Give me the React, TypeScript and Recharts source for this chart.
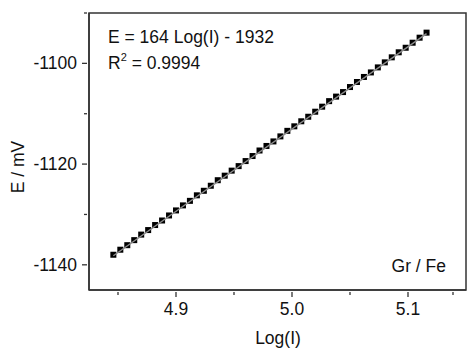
import { ScatterChart, Scatter, XAxis, YAxis, ReferenceArea } from 'recharts';

const logI = [
  4.846, 4.852, 4.858, 4.864, 4.870, 4.876, 4.882, 4.888, 4.894, 4.900,
  4.906, 4.912, 4.918, 4.924, 4.930, 4.936, 4.942, 4.948, 4.954, 4.960,
  4.966, 4.972, 4.978, 4.984, 4.990, 4.996, 5.002, 5.008, 5.014, 5.020,
  5.026, 5.032, 5.038, 5.044, 5.050, 5.056, 5.062, 5.068, 5.074, 5.080,
  5.086, 5.092, 5.098, 5.104, 5.110, 5.116,
];

const potential = [
  -1138.0, -1137.0, -1136.1, -1135.1, -1134.0, -1133.1, -1132.1, -1131.2, -1130.2, -1129.2,
  -1128.2, -1127.3, -1126.2, -1125.3, -1124.3, -1123.2, -1122.3, -1121.3, -1120.4, -1119.4,
  -1118.4, -1117.3, -1116.4, -1115.5, -1114.5, -1113.4, -1112.5, -1111.5, -1110.6, -1109.6,
  -1108.6, -1107.5, -1106.6, -1105.7, -1104.7, -1103.7, -1102.7, -1101.8, -1100.8, -1099.8,
  -1098.8, -1097.8, -1096.9, -1095.9, -1094.9, -1093.9,
];

// linear fit, end points
const fitX = [4.846, 5.116];
const fitY = [-1138.2, -1094.1];

const xTicks = [4.85, 4.9, 4.95, 5.0, 5.05, 5.1, 5.15];
const yTicks = [-1140, -1130, -1120, -1110, -1100, -1090];
const xMajor = [4.9, 5.0, 5.1];
const yMajor = [-1140, -1120, -1100];

const points = logI.map((x, i) => ({ x, y: potential[i] }));
const fitLine = fitX.map((x, i) => ({ x, y: fitY[i] }));

const FONT = '"Liberation Sans", Arial, sans-serif';
const AXIS = '#333';

const isMajor = (v: number, list: number[]) => list.some((m) => Math.abs(m - v) < 1e-6);

const XTick = (props: any) => {
  const { x, y, payload } = props;
  const major = isMajor(payload.value, xMajor);
  return (
    <g>
      <line x1={x} x2={x} y1={y} y2={y + (major ? 5 : 3)} stroke={AXIS} strokeWidth={1.3} />
      {major && (
        <text x={x} y={y + 23} textAnchor="middle" fontSize={17.5} fontFamily={FONT} fill="#111">
          {payload.value.toFixed(1)}
        </text>
      )}
    </g>
  );
};

const YTick = (props: any) => {
  const { x, y, payload } = props;
  const major = isMajor(payload.value, yMajor);
  return (
    <g>
      <line x1={x} x2={x - (major ? 5 : 3)} y1={y} y2={y} stroke={AXIS} strokeWidth={1.3} />
      {major && (
        <text x={x - 10} y={y + 6} textAnchor="end" fontSize={17.5} fontFamily={FONT} fill="#111">
          {payload.value}
        </text>
      )}
    </g>
  );
};

const Square = (props: any) => {
  const { cx, cy } = props;
  return <rect x={cx - 3} y={cy - 3} width={6} height={6} fill="#000" />;
};

export default function App() {
  return (
    <div style={{ position: 'absolute', left: 0, top: 0, width: 467, height: 348, background: '#fff' }}>
      <ScatterChart width={467} height={348} margin={{ top: 13, right: 1, bottom: 0, left: 0 }}>
        <XAxis
          type="number"
          dataKey="x"
          domain={[4.825, 5.15]}
          ticks={xTicks}
          tickSize={0}
          tickLine={false}
          height={58}
          axisLine={{ stroke: AXIS, strokeWidth: 1.5 }}
          tick={<XTick />}
          allowDataOverflow
        />
        <YAxis
          type="number"
          dataKey="y"
          domain={[-1145, -1090]}
          ticks={yTicks}
          tickSize={0}
          tickLine={false}
          width={89}
          axisLine={{ stroke: AXIS, strokeWidth: 1.5 }}
          tick={<YTick />}
          allowDataOverflow
        />
        <ReferenceArea x1={4.825} x2={5.15} y1={-1145} y2={-1090} fill="none" stroke={AXIS} strokeWidth={1.5} />
        <Scatter data={points} shape={<Square />} isAnimationActive={false} />
        <Scatter
          data={fitLine}
          line={{ stroke: '#8a8a8a', strokeWidth: 1.5 }}
          shape={() => <g />}
          isAnimationActive={false}
        />
      </ScatterChart>
      <svg width={467} height={348} style={{ position: 'absolute', left: 0, top: 0, pointerEvents: 'none' }}>
        <g fontFamily={FONT} fill="#111" fontSize={17.5}>
          <text x={108} y={43}>E = 164 Log(I) - 1932</text>
          <text x={108} y={69}>
            R<tspan fontSize={11} dy={-8}>2</tspan>
            <tspan dy={8}> = 0.9994</tspan>
          </text>
          <text x={446} y={272} textAnchor="end">Gr / Fe</text>
          <text x={278} y={344} textAnchor="middle">Log(I)</text>
          <text x={24} y={167} textAnchor="middle" transform="rotate(-90 24 167)">E / mV</text>
        </g>
      </svg>
    </div>
  );
}
